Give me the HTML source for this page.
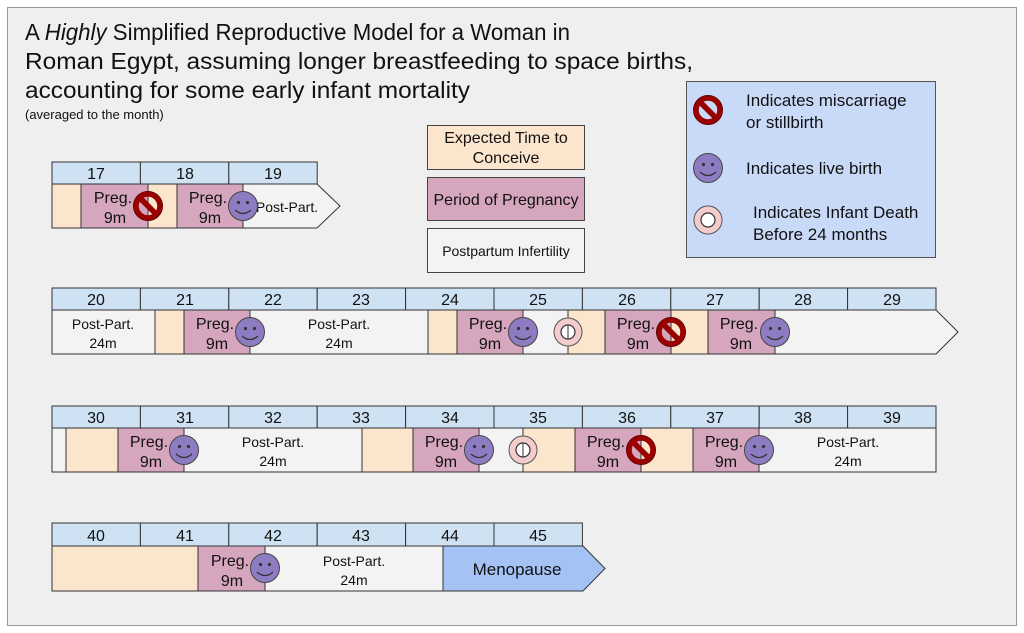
<!DOCTYPE html>
<html><head><meta charset="utf-8"><style>
html,body{margin:0;padding:0;background:#fff;}
svg{display:block;font-family:"Liberation Sans",sans-serif;}
</style></head><body>
<svg width="1024" height="633" viewBox="0 0 1024 633" xmlns="http://www.w3.org/2000/svg">
<defs>
<g id="mis"><circle r="12" fill="none" stroke="#990000" stroke-width="5.5"/><line x1="-8" y1="-8" x2="8" y2="8" stroke="#990000" stroke-width="5.5"/><circle r="14.6" fill="none" stroke="#5a0000" stroke-width="0.8"/></g>
<g id="smi"><circle r="14.5" fill="#8e7cc3" stroke="#444" stroke-width="1"/><circle cx="-4.5" cy="-3.5" r="1.6" fill="#333"/><circle cx="4.5" cy="-3.5" r="1.6" fill="#333"/><path d="M-8 4 Q0 11 8 4" fill="none" stroke="#333" stroke-width="1.3"/></g>
<g id="rng"><circle r="14" fill="#f4cccc" stroke="#555" stroke-width="1"/><circle r="7" fill="#fff" stroke="#333" stroke-width="1.2"/></g>
</defs>
<rect x="7.5" y="7.5" width="1009" height="618" fill="#efefef" stroke="#999" stroke-width="1"/>
<text x="25" y="40" font-size="23" fill="#111" textLength="545" lengthAdjust="spacingAndGlyphs">A <tspan font-style="italic">Highly</tspan> Simplified Reproductive Model for a Woman in</text>
<text x="25" y="69" font-size="23" fill="#111" textLength="668" lengthAdjust="spacingAndGlyphs">Roman Egypt, assuming longer breastfeeding to space births,</text>
<text x="25" y="98" font-size="23" fill="#111" textLength="445" lengthAdjust="spacingAndGlyphs">accounting for some early infant mortality</text>
<text x="25" y="119" font-size="13" fill="#111">(averaged to the month)</text>

<!-- legend left -->
<g stroke="#444" stroke-width="1">
<rect x="427.5" y="125.5" width="157" height="44" fill="#fce5cd"/>
<rect x="427.5" y="177.5" width="157" height="43" fill="#d5a6bd"/>
<rect x="427.5" y="228.5" width="157" height="44" fill="#f3f3f3"/>
</g>
<g font-size="16" fill="#111" text-anchor="middle">
<text x="506" y="143">Expected Time to</text><text x="506" y="163">Conceive</text>
<text x="506" y="205">Period of Pregnancy</text>
<text x="506" y="256" font-size="14">Postpartum Infertility</text>
</g>
<!-- legend right -->
<rect x="686.5" y="81.5" width="249" height="176" fill="#c9daf8" stroke="#555"/>
<use href="#mis" x="708" y="110"/>
<use href="#smi" x="708" y="168"/>
<use href="#rng" x="708" y="220"/>
<g font-size="17" fill="#111">
<text x="746" y="106">Indicates miscarriage</text><text x="746" y="128">or stillbirth</text>
<text x="746" y="174">Indicates live birth</text>
<text x="753" y="218">Indicates Infant Death</text><text x="753" y="240">Before 24 months</text>
</g>

<!-- ROW 1 -->
<g stroke="#333" stroke-width="1">
<rect x="52" y="162" width="88.4" height="22" fill="#cfe2f3"/><rect x="140.4" y="162" width="88.4" height="22" fill="#cfe2f3"/><rect x="228.8" y="162" width="88.4" height="22" fill="#cfe2f3"/>
<path d="M243 184 H317 L340 206 L317 228 H243 Z" fill="#f3f3f3"/>
<rect x="52" y="184" width="29" height="44" fill="#fce5cd"/>
<rect x="81" y="184" width="67" height="44" fill="#d5a6bd"/>
<rect x="148" y="184" width="29" height="44" fill="#fce5cd"/>
<rect x="177" y="184" width="66" height="44" fill="#d5a6bd"/>
</g>
<g font-size="16" fill="#111" text-anchor="middle">
<text x="96" y="179">17</text><text x="185" y="179">18</text><text x="273" y="179">19</text>
<text x="113" y="203">Preg.</text><text x="115" y="223">9m</text>
<text x="208" y="203">Preg.</text><text x="210" y="223">9m</text>
<text x="287" y="212" font-size="14">Post-Part.</text>
</g>
<use href="#mis" x="148" y="206"/><use href="#smi" x="243" y="206"/>

<!-- ROW 2 -->
<g stroke="#333" stroke-width="1" fill="#cfe2f3">
<rect x="52" y="288" width="88.4" height="22"/><rect x="140.4" y="288" width="88.4" height="22"/><rect x="228.8" y="288" width="88.4" height="22"/><rect x="317.2" y="288" width="88.4" height="22"/><rect x="405.6" y="288" width="88.4" height="22"/><rect x="494" y="288" width="88.4" height="22"/><rect x="582.4" y="288" width="88.4" height="22"/><rect x="670.8" y="288" width="88.4" height="22"/><rect x="759.2" y="288" width="88.4" height="22"/><rect x="847.6" y="288" width="88.4" height="22"/>
</g>
<g stroke="#333" stroke-width="1">
<path d="M52 310 H936 L958 332 L936 354 H52 Z" fill="#f3f3f3"/>
<rect x="155" y="310" width="29" height="44" fill="#fce5cd"/>
<rect x="184" y="310" width="66" height="44" fill="#d5a6bd"/>
<rect x="428" y="310" width="29" height="44" fill="#fce5cd"/>
<rect x="457" y="310" width="66" height="44" fill="#d5a6bd"/>
<rect x="568" y="310" width="37" height="44" fill="#fce5cd"/>
<rect x="605" y="310" width="66" height="44" fill="#d5a6bd"/>
<rect x="671" y="310" width="37" height="44" fill="#fce5cd"/>
<rect x="708" y="310" width="67" height="44" fill="#d5a6bd"/>
</g>
<g font-size="16" fill="#111" text-anchor="middle">
<text x="96" y="305">20</text><text x="185" y="305">21</text><text x="273" y="305">22</text><text x="361" y="305">23</text><text x="450" y="305">24</text><text x="538" y="305">25</text><text x="627" y="305">26</text><text x="715" y="305">27</text><text x="803" y="305">28</text><text x="892" y="305">29</text>
<text x="103" y="329" font-size="14">Post-Part.</text><text x="103" y="348" font-size="14">24m</text>
<text x="339" y="329" font-size="14">Post-Part.</text><text x="339" y="348" font-size="14">24m</text>
<text x="215" y="329">Preg.</text><text x="217" y="349">9m</text>
<text x="488" y="329">Preg.</text><text x="490" y="349">9m</text>
<text x="636" y="329">Preg.</text><text x="638" y="349">9m</text>
<text x="739" y="329">Preg.</text><text x="741" y="349">9m</text>
</g>
<use href="#smi" x="250" y="332"/><use href="#smi" x="523" y="332"/><use href="#rng" x="568" y="332"/><line x1="568" y1="325" x2="568" y2="339" stroke="#333"/><use href="#mis" x="671" y="332"/><use href="#smi" x="775" y="332"/>

<!-- ROW 3 -->
<g stroke="#333" stroke-width="1" fill="#cfe2f3">
<rect x="52" y="406" width="88.4" height="22"/><rect x="140.4" y="406" width="88.4" height="22"/><rect x="228.8" y="406" width="88.4" height="22"/><rect x="317.2" y="406" width="88.4" height="22"/><rect x="405.6" y="406" width="88.4" height="22"/><rect x="494" y="406" width="88.4" height="22"/><rect x="582.4" y="406" width="88.4" height="22"/><rect x="670.8" y="406" width="88.4" height="22"/><rect x="759.2" y="406" width="88.4" height="22"/><rect x="847.6" y="406" width="88.4" height="22"/>
</g>
<g stroke="#333" stroke-width="1">
<rect x="52" y="428" width="884" height="44" fill="#f3f3f3"/>
<rect x="66" y="428" width="52" height="44" fill="#fce5cd"/>
<rect x="118" y="428" width="66" height="44" fill="#d5a6bd"/>
<rect x="362" y="428" width="51" height="44" fill="#fce5cd"/>
<rect x="413" y="428" width="66" height="44" fill="#d5a6bd"/>
<rect x="523" y="428" width="52" height="44" fill="#fce5cd"/>
<rect x="575" y="428" width="66" height="44" fill="#d5a6bd"/>
<rect x="641" y="428" width="52" height="44" fill="#fce5cd"/>
<rect x="693" y="428" width="66" height="44" fill="#d5a6bd"/>
</g>
<g font-size="16" fill="#111" text-anchor="middle">
<text x="96" y="423">30</text><text x="185" y="423">31</text><text x="273" y="423">32</text><text x="361" y="423">33</text><text x="450" y="423">34</text><text x="538" y="423">35</text><text x="627" y="423">36</text><text x="715" y="423">37</text><text x="803" y="423">38</text><text x="892" y="423">39</text>
<text x="273" y="447" font-size="14">Post-Part.</text><text x="273" y="466" font-size="14">24m</text>
<text x="848" y="447" font-size="14">Post-Part.</text><text x="848" y="466" font-size="14">24m</text>
<text x="149" y="447">Preg.</text><text x="151" y="467">9m</text>
<text x="444" y="447">Preg.</text><text x="446" y="467">9m</text>
<text x="606" y="447">Preg.</text><text x="608" y="467">9m</text>
<text x="724" y="447">Preg.</text><text x="726" y="467">9m</text>
</g>
<use href="#smi" x="184" y="450"/><use href="#smi" x="479" y="450"/><use href="#rng" x="523" y="450"/><line x1="523" y1="443" x2="523" y2="457" stroke="#333"/><use href="#mis" x="641" y="450"/><use href="#smi" x="759" y="450"/>

<!-- ROW 4 -->
<g stroke="#333" stroke-width="1" fill="#cfe2f3">
<rect x="52" y="523" width="88.4" height="23"/><rect x="140.4" y="523" width="88.4" height="23"/><rect x="228.8" y="523" width="88.4" height="23"/><rect x="317.2" y="523" width="88.4" height="23"/><rect x="405.6" y="523" width="88.4" height="23"/><rect x="494" y="523" width="88.4" height="23"/>
</g>
<g stroke="#333" stroke-width="1">
<rect x="52" y="546" width="391" height="45" fill="#f3f3f3"/>
<rect x="52" y="546" width="146" height="45" fill="#fce5cd"/>
<rect x="198" y="546" width="67" height="45" fill="#d5a6bd"/>
<path d="M443 546 H583 L605 568.5 L583 591 H443 Z" fill="#a4c2f4"/>
</g>
<g font-size="16" fill="#111" text-anchor="middle">
<text x="96" y="541">40</text><text x="185" y="541">41</text><text x="273" y="541">42</text><text x="361" y="541">43</text><text x="450" y="541">44</text><text x="538" y="541">45</text>
<text x="354" y="566" font-size="14">Post-Part.</text><text x="354" y="585" font-size="14">24m</text>
<text x="230" y="566">Preg.</text><text x="232" y="586">9m</text>
<text x="517" y="575" font-size="17">Menopause</text>
</g>
<use href="#smi" x="265" y="568"/>
</svg>
</body></html>
